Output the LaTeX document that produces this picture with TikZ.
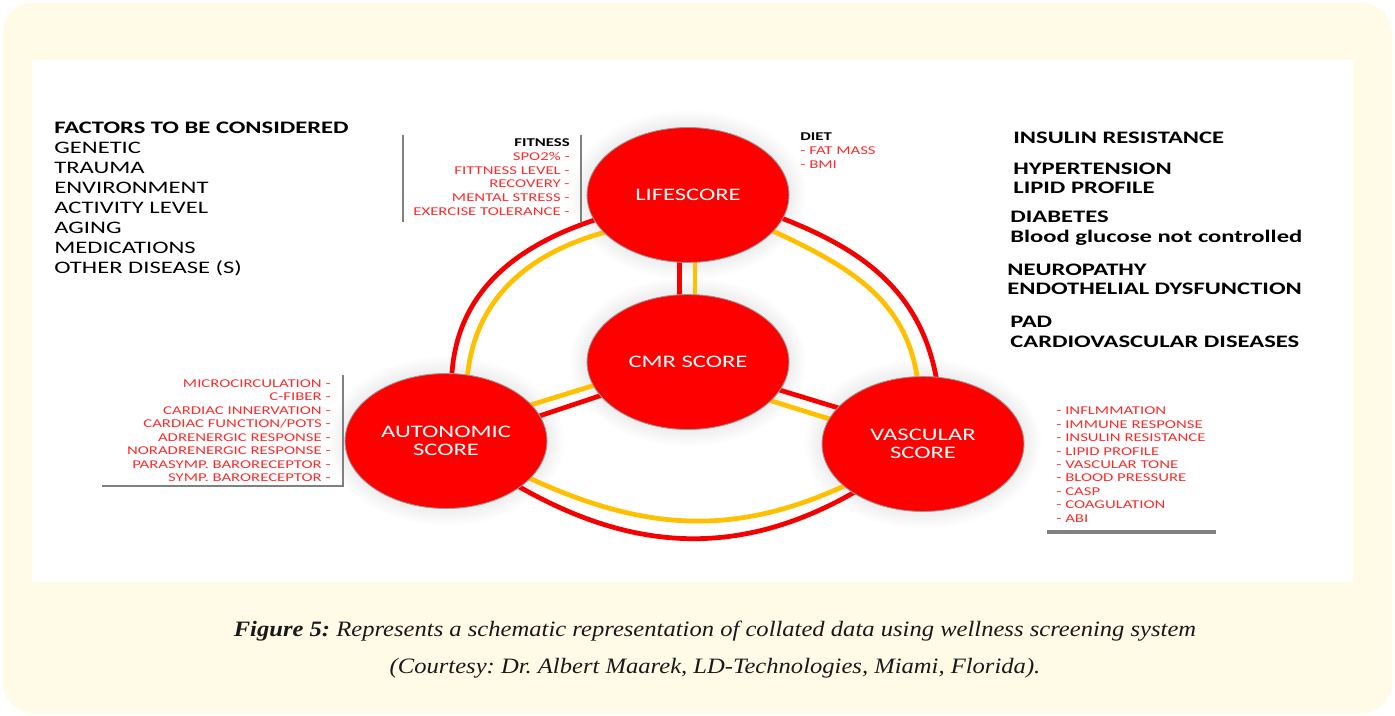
\documentclass[tikz,border=0pt]{standalone}
\usepackage{fontspec}
\setmainfont{Liberation Serif}
\newfontfamily\diagfont[FakeStretch=1.4]{Carlito}
\newfontfamily\capfont[FakeStretch=1.12]{Liberation Serif}
\usetikzlibrary{shapes.geometric,backgrounds,positioning}

\definecolor{pagecream}{RGB}{255,251,231}
\definecolor{scorered}{RGB}{255,0,0}
\definecolor{ringred}{RGB}{245,0,0}
\definecolor{ringgold}{RGB}{255,192,0}
\definecolor{listred}{RGB}{250,45,45}

\begin{document}
\frenchspacing
\begin{tikzpicture}[x=0.02cm, y=-0.02cm,
		score/.style={ellipse, fill=scorered, draw=gray!80, line width=0.5pt,
			minimum width=4.04cm, minimum height=2.7cm, inner sep=0pt,
			text=white, align=center, font=\diagfont\fontsize{10}{10.4}\selectfont},
		halo/.style={fill=black, fill opacity=0.009},
		bigtext/.style={anchor=base west, inner sep=0pt, font=\diagfont\fontsize{10}{12}\selectfont},
		smalltext/.style={inner sep=0pt, text=listred, font=\diagfont\fontsize{6.8}{8}\selectfont},
		redband/.style={draw=ringred, line width=2.7pt, shorten <=-2pt, shorten >=-2pt},
		goldband/.style={draw=ringgold, line width=2.7pt, shorten <=-2pt, shorten >=-2pt},
		caption/.style={font=\capfont\itshape\fontsize{12.5}{15}\selectfont, text=black!90}]
	\useasboundingbox (0,0) rectangle (1395,716);
	\begin{scope}[on background layer]
		\fill[pagecream, rounded corners=0.6cm] (3,3) rectangle (1392,713);
		\fill[white] (32,60) rectangle (1353,582);
	\end{scope}

	% the four scores
	\node[score] (life) at (688,195) {LIFESCORE};
	\node[score] (cmr)  at (688,362) {CMR SCORE};
	\node[score] (auto) at (446,441) {AUTONOMIC\\SCORE};
	\node[score] (vasc) at (923,444) {VASCULAR\\SCORE};

	% double bands, kept under the scores
	\begin{scope}[on background layer]
		\foreach \s in {life, cmr, auto, vasc}
			\foreach \r in {0,...,7}
				\fill[halo] (\s) ellipse [x radius=2.08cm+0.04cm*\r, y radius=1.41cm+0.04cm*\r];
		\draw[redband]  ([xshift=-0.17cm]life.south) -- ([xshift=-0.17cm]cmr.north);
		\draw[goldband] ([xshift=0.14cm]life.south) -- ([xshift=0.14cm]cmr.north);
		\draw[goldband] (auto.23) -- (cmr.194);
		\draw[redband]  (auto.15) -- (cmr.201);
		\draw[redband]  (vasc.157) -- (cmr.343);
		\draw[goldband] (vasc.165) -- (cmr.335);

		\draw[redband]  (auto.85) to[out=87, in=198] (life.195);
		\draw[goldband] (auto.72) to[out=85, in=195] (life.204);
		\draw[redband]  (life.346) to[out=-21, in=100] (vasc.79);
		\draw[goldband] (life.337) to[out=-25, in=98] (vasc.95);
		\draw[redband]  (auto.328) to[out=-30, in=210] (vasc.215);
		\draw[goldband] (auto.336) to[out=-25, in=205] (vasc.208);
	\end{scope}

	% factors
	\node[bigtext, font=\diagfont\bfseries\fontsize{10}{12}\selectfont] (factors) at (54,134) {FACTORS TO BE CONSIDERED};
	\foreach \f [count=\i] in {GENETIC, TRAUMA, ENVIRONMENT, ACTIVITY LEVEL, AGING, MEDICATIONS, OTHER DISEASE (S)}
		\node[bigtext] (factor\i) at (54,133.5+20*\i) {\f};

	% outcomes
	\begin{scope}[every node/.style={bigtext, font=\diagfont\bfseries\fontsize{10}{12}\selectfont}]
		\node (insulin) at (1013,143.5) {INSULIN RESISTANCE};
		\node (hyper)   at (1013,174.5) {HYPERTENSION};
		\node (lipid)   at (1013,193.5) {LIPID PROFILE};
		\node (diab)    at (1010,222.5) {DIABETES};
		\node (glucose) at (1010,242.5) {Blood glucose not controlled};
		\node (neuro)   at (1007,275.5) {NEUROPATHY};
		\node (endo)    at (1007,294.5) {ENDOTHELIAL DYSFUNCTION};
		\node (pad)     at (1010,327.5) {PAD};
		\node (cardio)  at (1010,347.5) {CARDIOVASCULAR DISEASES};
	\end{scope}

	% fitness and diet
	\draw[gray, line width=0.6pt] (403,135) -- (403,222);
	\draw[gray, line width=0.6pt] (581,135) -- (581,222);
	\node[smalltext, anchor=base east, text=black, font=\diagfont\bfseries\fontsize{6.8}{8}\selectfont] (fitness) at (570,147) {FITNESS};
	\foreach \f [count=\i] in {SPO2\% -, FITTNESS LEVEL -, RECOVERY -, MENTAL STRESS -, EXERCISE TOLERANCE -}
		\node[smalltext, anchor=base east] (fit\i) at (570,147.5+13.5*\i) {\f};
	\node[smalltext, anchor=base west, text=black, font=\diagfont\bfseries\fontsize{6.8}{8}\selectfont] (diet) at (800,141) {DIET};
	\node[smalltext, anchor=base west] (fat) at (800,155) {- FAT MASS};
	\node[smalltext, anchor=base west] (bmi) at (800,168.5) {- BMI};

	% autonomic items
	\draw[gray, line width=0.6pt] (343,375) -- (343,486) -- (102,486);
	\foreach \f [count=\i] in {MICROCIRCULATION -, C-FIBER -, CARDIAC INNERVATION -, CARDIAC FUNCTION/POTS -,
		ADRENERGIC RESPONSE -, NORADRENERGIC RESPONSE -, PARASYMP. BARORECEPTOR -, SYMP. BARORECEPTOR -}
		\node[smalltext, anchor=base east] (aut\i) at (331,373.5+13.5*\i) {\f};

	% vascular items
	\foreach \f [count=\i] in {INFLMMATION, IMMUNE RESPONSE, INSULIN RESISTANCE, LIPID PROFILE, VASCULAR TONE,
		BLOOD PRESSURE, CASP, COAGULATION, ABI}
		\node[smalltext, anchor=base west] (vas\i) at (1056,401.5+13.4*\i) {- \f};
	\draw[gray, line width=2pt] (1047,532) -- (1216,532);

	% caption
	\node[caption] (cap1) at (715,631)
		{\textbf{Figure 5:} Represents a schematic representation of collated data using wellness screening system};
	\node[caption] (cap2) at (715,668)
		{(Courtesy: Dr. Albert Maarek, LD-Technologies, Miami, Florida).};
\end{tikzpicture}
\end{document}
